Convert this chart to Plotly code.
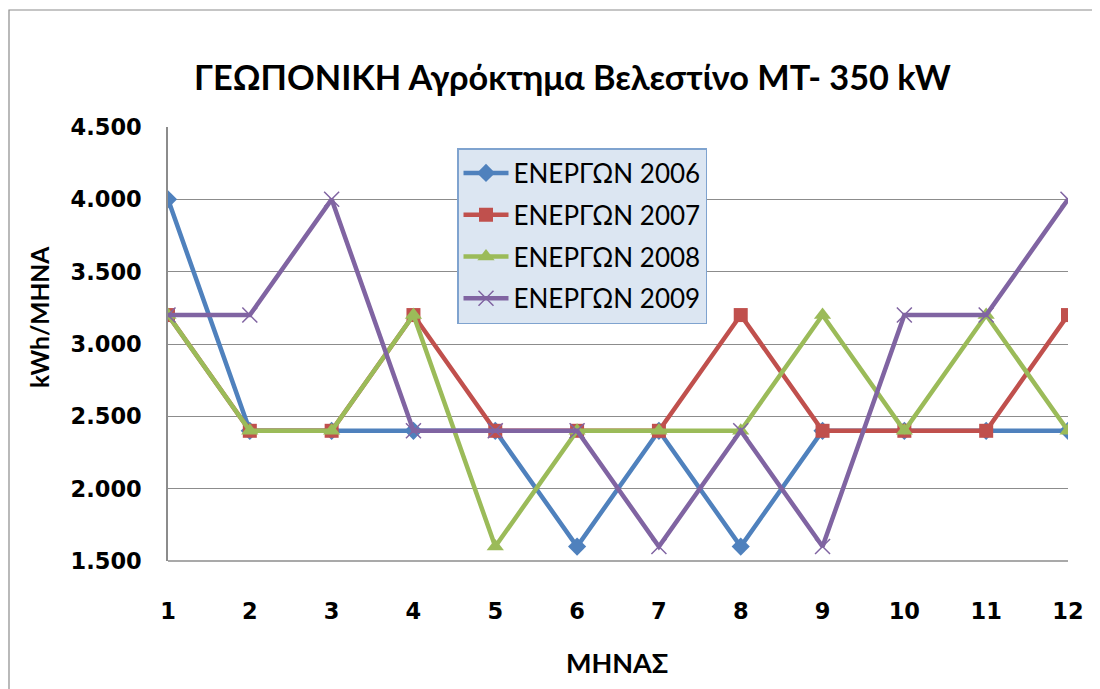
import plotly.graph_objects as go

months = [1, 2, 3, 4, 5, 6, 7, 8, 9, 10, 11, 12]
y2006 = [4000, 2400, 2400, 2400, 2400, 1600, 2400, 1600, 2400, 2400, 2400, 2400]
y2007 = [3200, 2400, 2400, 3200, 2400, 2400, 2400, 3200, 2400, 2400, 2400, 3200]
y2008 = [3200, 2400, 2400, 3200, 1600, 2400, 2400, 2400, 3200, 2400, 3200, 2400]
y2009 = [3200, 3200, 4000, 2400, 2400, 2400, 1600, 2400, 1600, 3200, 3200, 4000]
names = ["ΕΝΕΡΓΩΝ 2006", "ΕΝΕΡΓΩΝ 2007", "ΕΝΕΡΓΩΝ 2008", "ΕΝΕΡΓΩΝ 2009"]
yticks = [1500, 2000, 2500, 3000, 3500, 4000, 4500]
ytick_text = ["1.500", "2.000", "2.500", "3.000", "3.500", "4.000", "4.500"]

colors = ["#4f81bd", "#c0504d", "#9bbb59", "#8064a2"]
symbols = ["diamond", "square", "triangle-up", "x-thin"]
sizes = [14, 14, 15, 15]

fig = go.Figure()
for i, ys in enumerate([y2006, y2007, y2008, y2009]):
    marker = dict(symbol=symbols[i], size=sizes[i], color=colors[i])
    if symbols[i] == "x-thin":
        marker["line"] = dict(color=colors[i], width=1.5)
    fig.add_trace(go.Scatter(
        x=months, y=ys, name=names[i], mode="lines+markers",
        line=dict(color=colors[i], width=4.5), marker=marker,
        legendgroup=f"g{i}",
    ))

OFF = 8  # page body margin
W, H = 1100 - OFF, 689 - OFF
# plot area in page pixel coordinates
L, R, T, B = 168, 1068, 127, 561
pw, ph = R - L, B - T

def px_x(x):
    return (x - L) / pw

def px_y(y):
    return (B - y) / ph

FONT_T = "Lato"

fig.update_layout(
    width=W, height=H,
    margin=dict(l=L - OFF, r=W - (R - OFF), t=T - OFF, b=H - (B - OFF), pad=0),
    paper_bgcolor="white", plot_bgcolor="white",
    font=dict(family="DejaVu Sans", color="black"),
    showlegend=True,
    legend=dict(
        x=px_x(457), y=px_y(148), xanchor="left", yanchor="top",
        bgcolor="#dce6f2", bordercolor="#7fa3cf", borderwidth=1.5,
        font=dict(family=FONT_T, size=26, color="black"),
        tracegroupgap=5, itemwidth=45,
    ),
    xaxis=dict(
        range=[1, 12], tickmode="array", tickvals=months,
        ticktext=[str(m) for m in months],
        showgrid=False, zeroline=False,
        showline=False,
        ticks="", ticklabelstandoff=34,
        tickfont=dict(family="DejaVu Sans", size=22.5, weight="bold"),
    ),
    yaxis=dict(
        range=[1500, 4500], tickmode="array", tickvals=yticks,
        ticktext=ytick_text,
        showgrid=True, gridcolor="#8c8c8c", gridwidth=1.3,
        zeroline=False, showline=True, linecolor="#8c8c8c", linewidth=1.5,
        ticks="", ticklabelstandoff=20,
        tickfont=dict(family="DejaVu Sans", size=22.5, weight="bold"),
    ),
    shapes=[
        dict(type="line", xref="paper", yref="paper", x0=0, x1=1, y0=0, y1=0,
             line=dict(color="#8c8c8c", width=1.5), layer="below"),
        dict(type="rect", xref="paper", yref="paper",
             x0=px_x(9), x1=px_x(1105), y0=px_y(695), y1=px_y(10),
             line=dict(color="#8c8c8c", width=1.2), fillcolor="rgba(0,0,0,0)"),
    ],
    annotations=[
        dict(text="ΓΕΩΠΟΝΙΚΗ Αγρόκτημα Βελεστίνο ΜΤ- 350 kW", xref="paper", yref="paper",
             x=px_x(572), y=px_y(76), xanchor="center", yanchor="middle", showarrow=False,
             font=dict(family=FONT_T, size=34.3, weight="bold", color="black")),
        dict(text="kWh/ΜΗΝΑ", xref="paper", yref="paper",
             x=px_x(39), y=px_y(317), xanchor="center", yanchor="middle",
             showarrow=False, textangle=-90,
             font=dict(family=FONT_T, size=24.5, weight="bold", color="black")),
        dict(text="ΜΗΝΑΣ", xref="paper", yref="paper",
             x=px_x(617), y=px_y(662), xanchor="center", yanchor="middle", showarrow=False,
             font=dict(family=FONT_T, size=27, weight="bold", color="black")),
    ],
)

fig.write_html("out.html")
